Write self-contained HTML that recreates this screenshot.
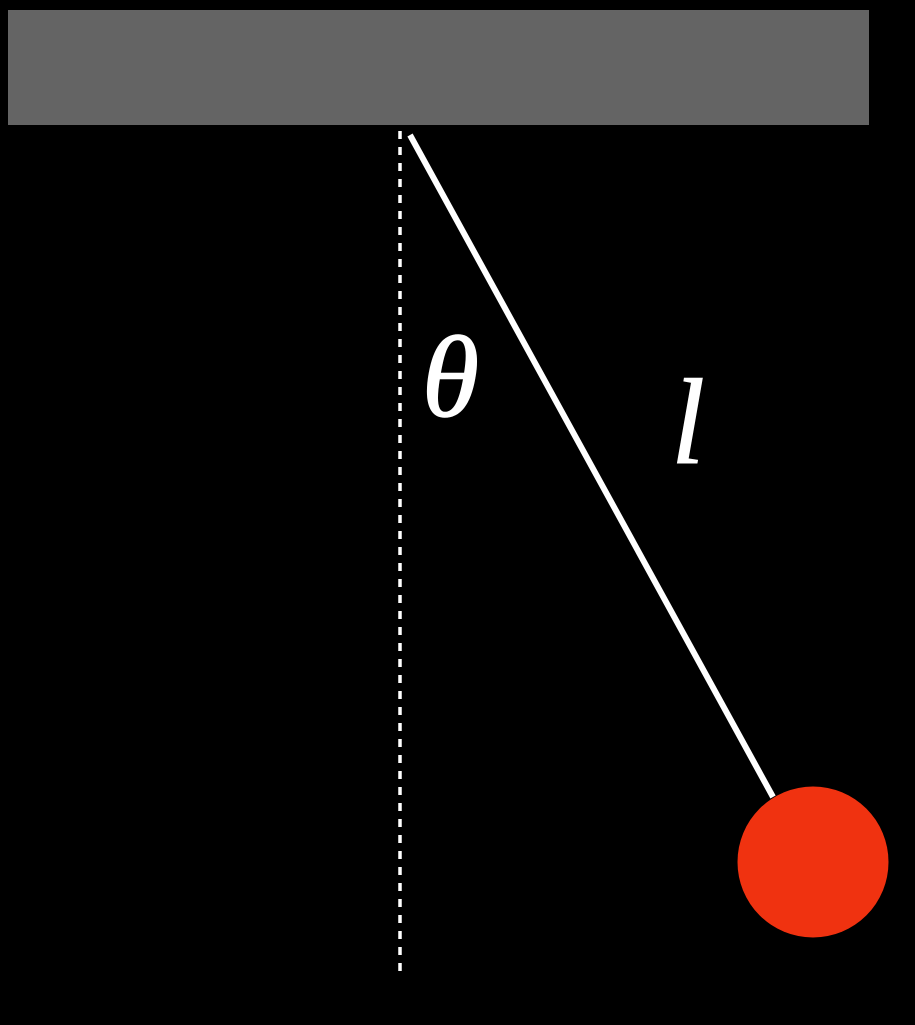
<!DOCTYPE html>
<html><head><meta charset="utf-8"><style>
html,body{margin:0;padding:0;background:#000;}
svg{display:block;}
</style></head><body>
<svg width="915" height="1025" viewBox="0 0 915 1025" xmlns="http://www.w3.org/2000/svg">
<rect width="915" height="1025" fill="#000"/>
<rect x="8" y="10" width="861" height="115" fill="#646464"/>
<line x1="400" y1="131" x2="400" y2="972" stroke="#fff" stroke-width="3.5" stroke-dasharray="8,8"/>
<line x1="410" y1="135" x2="773" y2="797" stroke="#fff" stroke-width="6"/>
<circle cx="813" cy="862" r="75.5" fill="#f03210"/>
<text x="422" y="416" font-family="Liberation Serif, serif" font-style="italic" font-size="116" fill="#fff" stroke="#fff" stroke-width="1.5">θ</text>
<text x="671" y="463" font-family="Liberation Serif, serif" font-style="italic" font-size="122" fill="#fff" stroke="#fff" stroke-width="1">l</text>
</svg>
</body></html>
